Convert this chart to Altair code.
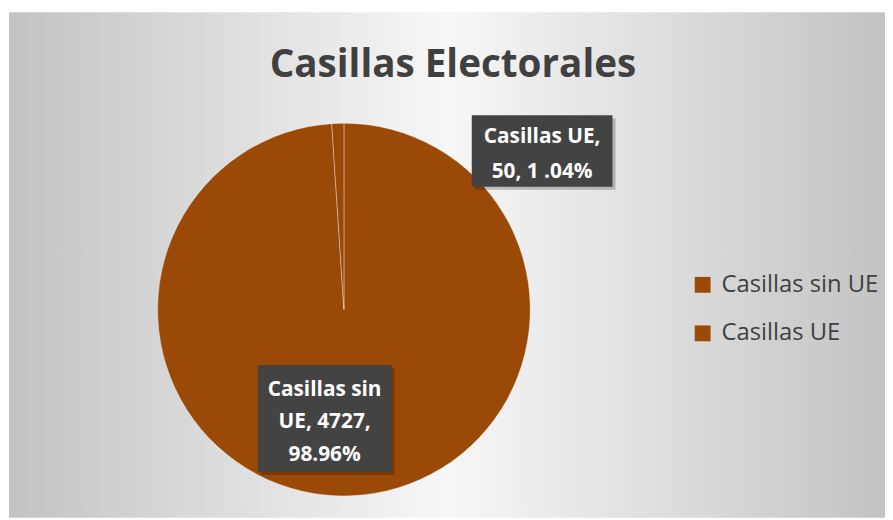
import altair as alt
import pandas as pd

# ---- data ----
categories = ["Casillas sin UE", "Casillas UE"]
values = [4727, 50]
order_idx = [0, 1]
label_sin = ["Casillas sin", "UE, 4727,", "98.96%"]
label_ue = ["Casillas UE,", "50, 1 .04%"]
title_text = "Casillas Electorales"

PIE = "#9B4906"
BOX = "#434343"
TXT = "#404040"
FONT = "Open Sans"

W, H = 885, 512

df = pd.DataFrame({"category": categories, "value": values, "idx": order_idx})
one = pd.DataFrame({"a": [0]})

grad = alt.LinearGradient(
    gradient="linear",
    stops=[
        alt.GradientStop(color="#c3c3c3", offset=0),
        alt.GradientStop(color="#f7f7f7", offset=0.5),
        alt.GradientStop(color="#c3c3c3", offset=1),
    ],
    x1=0, x2=1, y1=0, y2=0,
)

bg = alt.Chart(one).mark_rect(fill=grad).encode(
    x=alt.value(1), x2=alt.value(W), y=alt.value(2), y2=alt.value(H)
)

title = alt.Chart(one).mark_text(
    text=title_text, font=FONT, fontSize=39, fontWeight="bold", color=TXT,
    align="center", baseline="alphabetic",
).encode(x=alt.value(449), y=alt.value(67))

pie = alt.Chart(df).mark_arc(
    outerRadius=188, stroke="white", strokeWidth=1, strokeOpacity=0.35
).encode(
    theta=alt.Theta("value:Q", stack=True),
    color=alt.Color(
        "category:N",
        scale=alt.Scale(domain=categories, range=[PIE, PIE]),
        legend=alt.Legend(
            title=None, orient="none", legendX=689, legendY=265,
            symbolType="square", symbolSize=256, symbolStrokeWidth=0,
            labelFont=FONT, labelFontSize=24, labelColor=TXT,
            labelOffset=7, rowPadding=25, padding=0,
        ),
    ),
    order=alt.Order("idx:Q"),
    x=alt.value(339), y=alt.value(302),
)


def box(x1, x2, y1, y2):
    shadow = alt.Chart(one).mark_rect(fill="black", opacity=0.22).encode(
        x=alt.value(x1 + 3), x2=alt.value(x2 + 3), y=alt.value(y1 + 3), y2=alt.value(y2 + 3)
    )
    rect = alt.Chart(one).mark_rect(fill=BOX).encode(
        x=alt.value(x1), x2=alt.value(x2), y=alt.value(y1), y2=alt.value(y2)
    )
    return [shadow, rect]


def label(lines, x, y, lh):
    return alt.Chart(one).mark_text(
        text="\n".join(lines), lineBreak="\n", lineHeight=lh,
        font=FONT, fontSize=21, fontWeight="bold", color="white",
        align="center", baseline="alphabetic",
    ).encode(x=alt.value(x), y=alt.value(y))


layers = [bg, title, pie]
layers += box(468, 610, 106, 178)
layers.append(label(label_ue, 539, 134, 35))
layers += box(252, 387, 358, 466)
layers.append(label(label_sin, 319.5, 389, 33))

chart = alt.layer(*layers).properties(
    width=W, height=H, padding=0, autosize="none", background="white"
).configure_view(stroke=None)

chart.save("out.html", embed_options={"renderer": "svg", "actions": False})
